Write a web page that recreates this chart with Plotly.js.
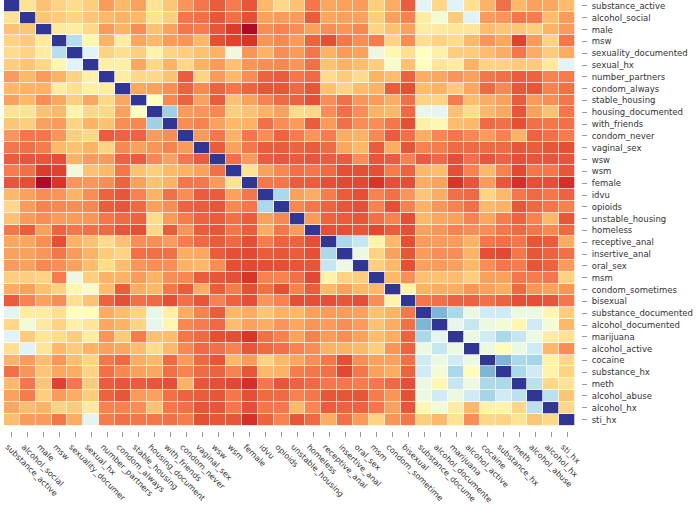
<!DOCTYPE html>
<html><head><meta charset="utf-8">
<script src="https://cdn.plot.ly/plotly-3.0.1.min.js"></script>
<style>html,body{margin:0;padding:0;background:#fff;overflow:hidden}#c{width:696px;height:509px;overflow:hidden}</style>
</head><body><div id="c"></div>
<script>
const labels = ["substance_active","alcohol_social","male","msw","sexuality_documented","sexual_hx","number_partners","condom_always","stable_housing","housing_documented","with_friends","condom_never","vaginal_sex","wsw","wsm","female","idvu","opioids","unstable_housing","homeless","receptive_anal","insertive_anal","oral_sex","msm","condom_sometimes","bisexual","substance_documented","alcohol_documented","marijuana","alcohol_active","cocaine","substance_hx","meth","alcohol_abuse","alcohol_hx","sti_hx"];
// The x labels as far as they can be read in the reference, where the picture's lower edge cuts some of them.
const xLabels = ["substance_active","alcohol_social","male","msw","sexuality_documer","sexual_hx","number_partners","condom_always","stable_housing","housing_document","with_friends","condom_never","vaginal_sex","wsw","wsm","female","idvu","opioids","unstable_housing","homeless","receptive_anal","insertive_anal","oral_sex","msm","condom_sometime","bisexual","substance_docume","alcohol_documente","marijuana","alcohol_active","cocaine","substance_hx","meth","alcohol_abuse","alcohol_hx","sti_hx"];
// Upper triangle of the symmetric matrix, each row starts on the diagonal.
const upper = [
[100,41,33,37,39,36,26,31,27,41,34,25,20,16,21,15,31,38,33,20,28,27,26,36,29,16,59,38,60,40,30,19,31,27,28,32],
[100,34,35,37,34,31,30,31,41,36,20,19,15,19,14,27,26,26,16,28,27,27,36,27,22,44,54,35,60,26,25,20,21,32,26],
[100,43,44,38,26,30,24,33,27,20,21,15,11,2,24,22,24,27,24,25,23,37,33,27,44,43,42,42,32,34,34,36,30,26],
[100,68,47,30,44,28,31,26,25,31,14,12,10,25,23,26,17,14,20,24,21,37,24,40,37,39,31,25,28,12,26,37,20],
[100,60,37,40,36,46,37,36,33,30,55,25,30,24,26,20,30,26,27,56,47,40,50,45,36,35,32,29,20,29,35,29],
[100,45,45,28,38,30,38,30,26,33,25,24,23,25,19,33,30,32,36,53,33,50,42,44,30,37,37,35,35,43,59],
[100,44,38,38,33,16,37,26,31,24,17,16,20,18,39,35,39,30,32,17,29,28,25,27,20,19,16,17,22,21],
[100,28,27,24,17,23,17,20,17,15,15,18,15,33,37,32,30,16,14,32,30,35,28,18,23,15,15,22,19],
[100,50,23,17,27,16,33,27,22,18,17,14,24,19,25,26,29,19,37,37,21,32,29,27,16,26,24,20],
[100,72,26,25,23,36,33,30,27,39,38,24,19,24,30,31,18,57,58,33,39,31,28,15,27,33,20],
[100,24,22,27,31,30,19,24,26,16,26,19,24,24,20,14,45,47,32,31,18,19,14,19,20,19],
[100,26,20,30,20,24,17,21,25,21,29,30,23,16,19,29,23,20,23,26,22,30,17,19,21],
[100,16,27,20,16,16,17,16,18,28,31,16,29,15,22,21,18,18,18,18,15,16,15,14],
[100,19,26,16,15,16,15,16,16,24,15,16,22,16,18,14,19,15,17,14,15,15,15],
[100,41,27,23,19,20,18,14,14,14,21,17,31,32,14,22,31,22,13,20,20,15],
[100,20,20,16,16,14,13,13,10,14,14,29,27,10,15,26,15,9,14,14,9],
[100,70,27,29,21,16,14,22,19,25,34,29,19,18,37,31,20,18,20,17],
[100,23,20,17,15,14,22,14,22,30,25,22,19,31,30,15,18,20,22],
[100,26,17,16,15,19,22,14,31,28,27,22,28,21,17,22,31,15],
[100,14,14,15,13,16,14,27,25,22,24,24,20,18,20,23,18],
[100,70,65,46,31,14,26,26,26,30,20,19,20,15,16,29],
[100,56,37,27,15,26,24,24,30,14,13,20,15,17,19],
[100,36,31,14,27,26,27,31,24,20,21,15,17,26],
[100,31,24,33,33,32,36,27,27,20,21,20,37],
[100,46,30,29,29,25,27,29,18,25,27,25],
[100,20,19,17,17,19,17,14,14,15,20],
[100,78,70,56,63,63,56,56,47,36],
[100,58,65,56,54,47,63,54,31],
[100,56,63,70,65,56,44,41],
[100,56,49,56,63,31,24],
[100,78,70,71,46,38],
[100,70,63,46,37],
[100,67,38,41],
[100,67,34],
[100,38],
[100]
];
const scale = [[0,"#a50026"],[0.1,"#d93527"],[0.2,"#f5764a"],[0.3,"#fdb366"],[0.4,"#fee090"],[0.5,"#ffffbf"],[0.6,"#e0f3f8"],[0.7,"#abd9e9"],[0.8,"#74add1"],[0.9,"#4575b4"],[1,"#313695"]];
const z = labels.map((_, i) => labels.map((_, j) => i <= j ? upper[i][j - i] : upper[j][i - j]));
const H = 509, W = 696;
const L = 3.8, R = 575, B = 426, plotR = 581, plotB = 431.5;
const yFont = {family: "DejaVu Sans, sans-serif", size: 8.5, color: "#333"};
const xFont = {family: "DejaVu Sans, sans-serif", size: 8.05, color: "#333"};
Plotly.newPlot("c", [{
  type: "heatmap", x: labels, y: labels, z: z, zmin: 0, zmax: 100,
  colorscale: scale, showscale: false, xgap: 0.7, ygap: 0.7
}], {
  width: W, height: H, paper_bgcolor: "#fff", plot_bgcolor: "#fff",
  margin: {l: L, r: W - plotR, t: 0, b: H - plotB, pad: 0},
  xaxis: {domain: [0, (R - L) / (plotR - L)], anchor: "free", position: 0, side: "bottom", type: "category",
    tickmode: "array", tickvals: labels, ticktext: xLabels, tickangle: 45, ticks: "outside", ticklen: 5, tickwidth: 1,
    tickcolor: "#999", tickfont: xFont, ticklabelstandoff: 2, ticklabelshift: -4, showgrid: false, zeroline: false, showline: false, automargin: false},
  yaxis: {domain: [(plotB - B) / plotB, 1], anchor: "free", position: 1, side: "right", type: "category", autorange: "reversed",
    tickmode: "array", tickvals: labels, ticktext: labels, ticks: "outside", ticklen: 5, tickwidth: 1,
    tickcolor: "#999", tickfont: yFont, ticklabelstandoff: 3, showgrid: false, zeroline: false, showline: false, automargin: false}
}, {displayModeBar: false});
</script></body></html>
